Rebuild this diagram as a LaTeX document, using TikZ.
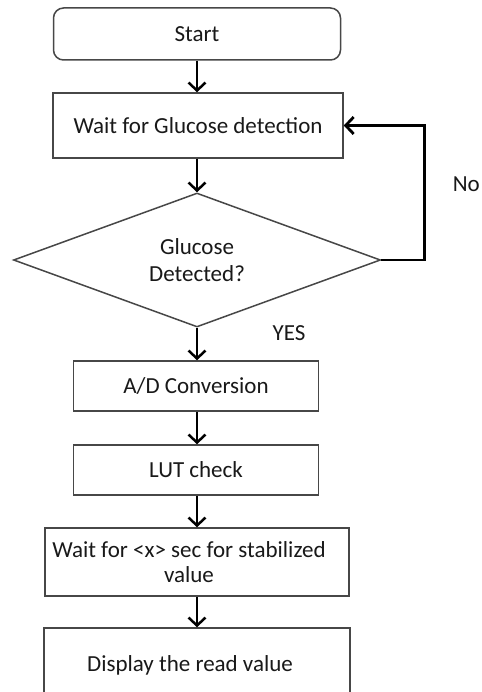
\documentclass[tikz,border=0pt]{standalone}
\usepackage{fontspec}
\setmainfont{Carlito}
\usetikzlibrary{arrows.meta,shapes.geometric,calc}
\begin{document}
\begin{tikzpicture}[x=1pt,y=1pt,
  every node/.style={font=\fontsize{23}{25}\selectfont, text=black!90},
  box/.style={draw=black!72, line width=1.5pt, fill=white, rectangle, inner sep=0pt, align=center},
  flow/.style={line width=2.5pt, -{Straight Barb[length=8pt,width=17pt]}},
  lbl/.style={draw=none, fill=none, align=center}
]
\clip (0,0) rectangle (481,-692);
\fill[white] (0,0) rectangle (481,-692);
\node[box, rounded corners=10pt, minimum width=287pt, minimum height=52pt] (start) at (197,-34) {Start};
\node[box, minimum width=290pt, minimum height=65pt] (wait) at (198,-125.5) {Wait for Glucose detection};
\node[box, shape=diamond, aspect=2.7, minimum width=367pt, minimum height=134pt] (dec) at (197,-260) {Glucose\\[2pt]Detected?};
\node[box, minimum width=245pt, minimum height=50pt] (ad) at (196,-386) {A/D Conversion};
\node[box, minimum width=245pt, minimum height=50pt] (lut) at (196,-470) {LUT check};
\node[box, minimum width=304pt, minimum height=68pt,
  label={[lbl, xshift=-8pt]center:Wait for <x> sec for stabilized\\value}] (waitx) at (197,-562) {};
\node[box, minimum width=306pt, minimum height=74pt,
  label={[lbl, xshift=-7pt]center:Display the read value}] (disp) at (197,-665) {};
\node[anchor=east, inner xsep=1pt] (no) at (481,-184) {No};
\node (yes) at (289,-333) {YES};
\draw[flow] (start.south) -- (wait.north -| start.south);
\draw[flow] (wait.south -| dec.north) -- (dec.north);
\draw[flow] (dec.south) -- (ad.north -| dec.south);
\draw[flow] (ad.south -| dec.south) -- (lut.north -| dec.south);
\draw[flow] (lut.south -| dec.south) -- (waitx.north -| dec.south);
\draw[flow] (waitx.south -| dec.south) -- (disp.north -| dec.south);
\draw[flow, line width=2.8pt] (dec.east) -- ++(43,0) |- (wait.east);
\end{tikzpicture}
\end{document}
